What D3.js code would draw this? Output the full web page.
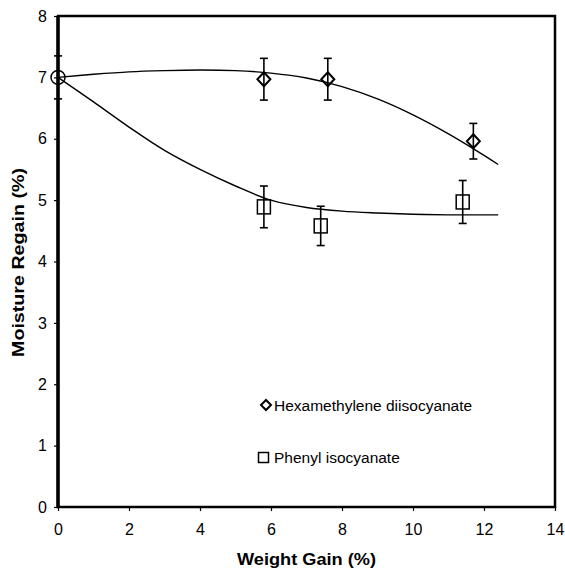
<!DOCTYPE html>
<html>
<head>
<meta charset="utf-8">
<script src="https://cdn.jsdelivr.net/npm/d3@7"></script>
<style>
  body { margin: 0; background: #fff; }
  text { font-family: "Liberation Sans", Arial, sans-serif; fill: #000; }
</style>
</head>
<body>
<script>
// measured points (weight gain %, moisture regain %, error)
var controlX = [0];
var controlY = [7.0];
var controlErr = [0.35];

var hdiX = [5.8, 7.6, 11.7];
var hdiY = [6.97, 6.97, 5.96];
var hdiErr = [0.34, 0.34, 0.29];

var piX = [5.8, 7.4, 11.4];
var piY = [4.89, 4.58, 4.97];
var piErr = [0.34, 0.32, 0.35];

// fitted trend lines
var hdiFitX = [0, 1, 2, 3, 4, 5, 6, 7, 8, 9, 10, 11, 12, 12.4];
var hdiFitY = [7.0, 7.05, 7.09, 7.11, 7.12, 7.11, 7.07, 6.99, 6.85, 6.65, 6.39, 6.08, 5.73, 5.58];

var piFitX = [0, 1, 2, 3, 4, 5, 6, 7, 8, 9, 10, 11, 12.4];
var piFitY = [7.0, 6.6, 6.19, 5.81, 5.5, 5.23, 5.0, 4.88, 4.82, 4.79, 4.77, 4.76, 4.76];

var legendLabels = ["Hexamethylene diisocyanate", "Phenyl isocyanate"];
var xTicks = [0, 2, 4, 6, 8, 10, 12, 14];
var yTicks = [0, 1, 2, 3, 4, 5, 6, 7, 8];

var width = 565, height = 569;
var margin = {top: 16, right: 10, bottom: 62, left: 58};

var x = d3.scaleLinear().domain([0, 14]).range([margin.left, width - margin.right]);
var y = d3.scaleLinear().domain([0, 8]).range([height - margin.bottom, margin.top]);

var svg = d3.select("body").append("svg")
  .attr("width", width)
  .attr("height", height);

// axes
var xAxis = svg.append("g")
  .attr("transform", "translate(0," + y(0) + ")")
  .call(d3.axisBottom(x).tickValues(xTicks).tickSize(4).tickPadding(13));
var yAxis = svg.append("g")
  .attr("transform", "translate(" + x(0) + ",0)")
  .call(d3.axisLeft(y).tickValues(yTicks).tickSize(4).tickPadding(7));
[xAxis, yAxis].forEach(function(a) {
  a.select(".domain").remove();
  a.selectAll("line").attr("stroke", "#000").attr("stroke-width", 1.2);
  a.selectAll("text").style("font-size", "16px").attr("font-family", null);
});

// plot frame
svg.append("rect")
  .attr("x", x(0)).attr("y", y(8))
  .attr("width", x(14) - x(0)).attr("height", y(0) - y(8))
  .attr("fill", "none").attr("stroke", "#000").attr("stroke-width", 2.5);
svg.append("line")
  .attr("x1", x(0)).attr("x2", x(0)).attr("y1", y(8)).attr("y2", y(0))
  .attr("stroke", "#000").attr("stroke-width", 3.5);

// fitted lines
var line = d3.line()
  .x(function(d) { return x(d[0]); })
  .y(function(d) { return y(d[1]); })
  .curve(d3.curveCatmullRom.alpha(0.5));

svg.append("path")
  .datum(d3.zip(hdiFitX, hdiFitY))
  .attr("d", line).attr("fill", "none").attr("stroke", "#000").attr("stroke-width", 1.4);
svg.append("path")
  .datum(d3.zip(piFitX, piFitY))
  .attr("d", line).attr("fill", "none").attr("stroke", "#000").attr("stroke-width", 1.4);

// error bars
function errorBars(xs, ys, es) {
  var g = svg.append("g").attr("stroke", "#000").attr("stroke-width", 1.6);
  xs.forEach(function(v, i) {
    var cx = x(v), top = y(ys[i] + es[i]), bot = y(ys[i] - es[i]);
    g.append("line").attr("x1", cx).attr("x2", cx).attr("y1", top).attr("y2", bot);
    g.append("line").attr("x1", cx - 4).attr("x2", cx + 4).attr("y1", top).attr("y2", top);
    g.append("line").attr("x1", cx - 4).attr("x2", cx + 4).attr("y1", bot).attr("y2", bot);
  });
}
errorBars(controlX, controlY, controlErr);
errorBars(hdiX, hdiY, hdiErr);
errorBars(piX, piY, piErr);

// markers
svg.selectAll(".ctrl").data(d3.zip(controlX, controlY)).enter().append("circle")
  .attr("cx", function(d) { return x(d[0]); })
  .attr("cy", function(d) { return y(d[1]); })
  .attr("r", 7).attr("fill", "none").attr("stroke", "#000").attr("stroke-width", 1.5);

svg.selectAll(".hdi").data(d3.zip(hdiX, hdiY)).enter().append("path")
  .attr("transform", function(d) { return "translate(" + x(d[0]) + "," + y(d[1]) + ")"; })
  .attr("d", "M0,-7L6.5,0L0,7L-6.5,0Z")
  .attr("fill", "none").attr("stroke", "#000").attr("stroke-width", 2);

svg.selectAll(".pi").data(d3.zip(piX, piY)).enter().append("rect")
  .attr("x", function(d) { return x(d[0]) - 6.5; })
  .attr("y", function(d) { return y(d[1]) - 7; })
  .attr("width", 13).attr("height", 14)
  .attr("fill", "none").attr("stroke", "#000").attr("stroke-width", 1.5);

// legend
var leg = svg.append("g");
leg.append("path")
  .attr("transform", "translate(266,405)")
  .attr("d", "M0,-5L5,0L0,5L-5,0Z")
  .attr("fill", "none").attr("stroke", "#000").attr("stroke-width", 2);
leg.append("text").attr("x", 274).attr("y", 410.5)
  .style("font-size", "15.5px").text(legendLabels[0]);
leg.append("rect")
  .attr("x", 258.5).attr("y", 452.5).attr("width", 10).attr("height", 10)
  .attr("fill", "none").attr("stroke", "#000").attr("stroke-width", 1.5);
leg.append("text").attr("x", 274).attr("y", 462.5)
  .style("font-size", "15.5px").text(legendLabels[1]);

// axis titles
svg.append("text")
  .attr("x", 306.5).attr("y", 565)
  .attr("text-anchor", "middle")
  .attr("textLength", 139).attr("lengthAdjust", "spacingAndGlyphs")
  .style("font-size", "16.5px").style("font-weight", "bold")
  .text("Weight Gain (%)");
svg.append("text")
  .attr("transform", "translate(24,262.5) rotate(-90)")
  .attr("text-anchor", "middle")
  .attr("textLength", 189).attr("lengthAdjust", "spacingAndGlyphs")
  .style("font-size", "16.5px").style("font-weight", "bold")
  .text("Moisture Regain (%)");
</script>
</body>
</html>
